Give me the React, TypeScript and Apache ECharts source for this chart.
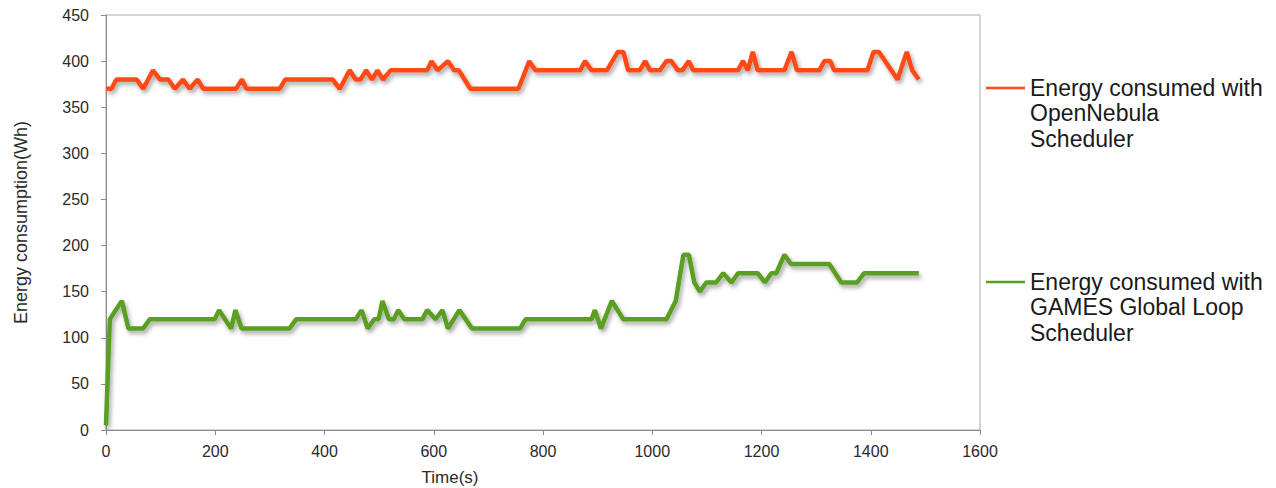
import React, { useEffect, useRef } from "react";
import * as echarts from "echarts";

const redTimes = [0, 10, 19, 56, 68, 86, 99, 114, 126, 141, 153, 168, 178, 238, 249, 257, 318, 328, 415, 428, 446, 457, 466, 476, 487, 497, 507, 521, 588, 596, 607, 626, 637, 646, 667, 755, 775, 786, 868, 877, 889, 917, 937, 947, 956, 977, 987, 996, 1014, 1026, 1035, 1047, 1055, 1067, 1075, 1157, 1166, 1175, 1184, 1193, 1242, 1255, 1265, 1306, 1315, 1326, 1333, 1394, 1405, 1415, 1449, 1466, 1476, 1488];
const redValues = [370, 370, 380, 380, 370, 390, 380, 380, 370, 380, 370, 380, 370, 370, 380, 370, 370, 380, 380, 370, 390, 380, 380, 390, 380, 390, 380, 390, 390, 400, 390, 400, 390, 390, 370, 370, 400, 390, 390, 400, 390, 390, 410, 410, 390, 390, 400, 390, 390, 400, 400, 390, 390, 400, 390, 390, 400, 390, 410, 390, 390, 410, 390, 390, 400, 400, 390, 390, 410, 410, 380, 410, 390, 380];

const greenTimes = [0, 7, 29, 41, 68, 80, 199, 207, 229, 237, 248, 336, 348, 457, 468, 479, 491, 499, 506, 518, 527, 535, 546, 579, 588, 603, 616, 626, 647, 670, 758, 768, 889, 895, 906, 926, 947, 1026, 1043, 1057, 1067, 1077, 1087, 1099, 1117, 1130, 1145, 1157, 1193, 1206, 1218, 1227, 1242, 1254, 1324, 1346, 1375, 1388, 1488];
const greenValues = [5, 120, 140, 110, 110, 120, 120, 130, 110, 130, 110, 110, 120, 120, 130, 110, 120, 120, 140, 120, 120, 130, 120, 120, 130, 120, 130, 110, 130, 110, 110, 120, 120, 130, 110, 140, 120, 120, 140, 190, 190, 160, 150, 160, 160, 170, 160, 170, 170, 160, 170, 170, 190, 180, 180, 160, 160, 170, 170];

const seriesNames = [
  "Energy consumed with\nOpenNebula\nScheduler",
  "Energy consumed with\nGAMES Global Loop\nScheduler",
];
const seriesColors = ["#FF4A14", "#5A9E22"];
const xTitle = "Time(s)";
const yTitle = "Energy consumption(Wh)";

export default function App() {
  const ref = useRef<HTMLDivElement>(null);
  useEffect(() => {
    if (!ref.current) return;
    const chart = echarts.init(ref.current, null, { renderer: "svg" });
    const redData = redTimes.map((t, i) => [t, redValues[i]]);
    const greenData = greenTimes.map((t, i) => [t, greenValues[i]]);
    const font = "'Liberation Sans', Arial, sans-serif";
    const mkSeries = (name: string, data: number[][], color: string) => ({
      name,
      type: "line",
      data,
      symbol: "none",
      smooth: false,
      lineStyle: {
        color,
        width: 4.5,
        shadowColor: "rgba(0,0,0,0.35)",
        shadowBlur: 4,
        shadowOffsetX: 2,
        shadowOffsetY: 3,
      },
    });
    const legendEntries = seriesNames.map((n, i) => {
      const y = i === 0 ? 88 : 282;
      return [
        {
          type: "line",
          shape: { x1: 986, y1: y, x2: 1025, y2: y },
          style: { stroke: seriesColors[i], lineWidth: 2.5 },
        },
        {
          type: "text",
          x: 1030,
          y: y - 13,
          style: {
            text: n,
            font: `23px ${font}`,
            fill: "#1a1a1a",
            lineHeight: 25.5,
            verticalAlign: "top",
            align: "left",
          },
        },
      ];
    }).flat();
    chart.setOption({
      animation: false,
      backgroundColor: "#ffffff",
      grid: {
        left: 106,
        right: 296,
        top: 15,
        bottom: 58,
        show: true,
        borderColor: "#c8c8c8",
        borderWidth: 1.5,
        backgroundColor: "transparent",
      },
      xAxis: {
        type: "value",
        min: 0,
        max: 1600,
        interval: 200,
        axisLine: { show: true, onZero: false, lineStyle: { color: "#8c8c8c", width: 1 } },
        axisTick: { show: true, length: 5, lineStyle: { color: "#8c8c8c" } },
        axisLabel: {
          color: "#2a2a2a",
          fontSize: 16,
          fontFamily: font,
          margin: 13,
          formatter: (v: number) => String(v),
        },
        splitLine: { show: false },
      },
      yAxis: {
        type: "value",
        min: 0,
        max: 450,
        interval: 50,
        name: yTitle,
        nameLocation: "middle",
        nameGap: 76,
        nameRotate: 90,
        nameTextStyle: { color: "#2a2a2a", fontSize: 18, fontFamily: font },
        axisLine: { show: true, lineStyle: { color: "#8c8c8c", width: 1 } },
        axisTick: { show: true, length: 5, lineStyle: { color: "#8c8c8c" } },
        axisLabel: {
          color: "#2a2a2a",
          fontSize: 16,
          fontFamily: font,
          margin: 17,
          formatter: (v: number) => String(v),
        },
        splitLine: { show: false },
      },
      graphic: [
        {
          type: "text",
          x: 450,
          y: 477,
          style: {
            text: xTitle,
            font: `17px ${font}`,
            fill: "#2a2a2a",
            align: "center",
            verticalAlign: "middle",
          },
        },
        ...legendEntries,
      ],
      series: [
        mkSeries(seriesNames[0], redData, seriesColors[0]),
        mkSeries(seriesNames[1], greenData, seriesColors[1]),
      ],
    });
    return () => chart.dispose();
  }, []);
  return (
    <div
      ref={ref}
      style={{ position: "absolute", left: 0, top: 0, width: 1276, height: 488 }}
    />
  );
}
